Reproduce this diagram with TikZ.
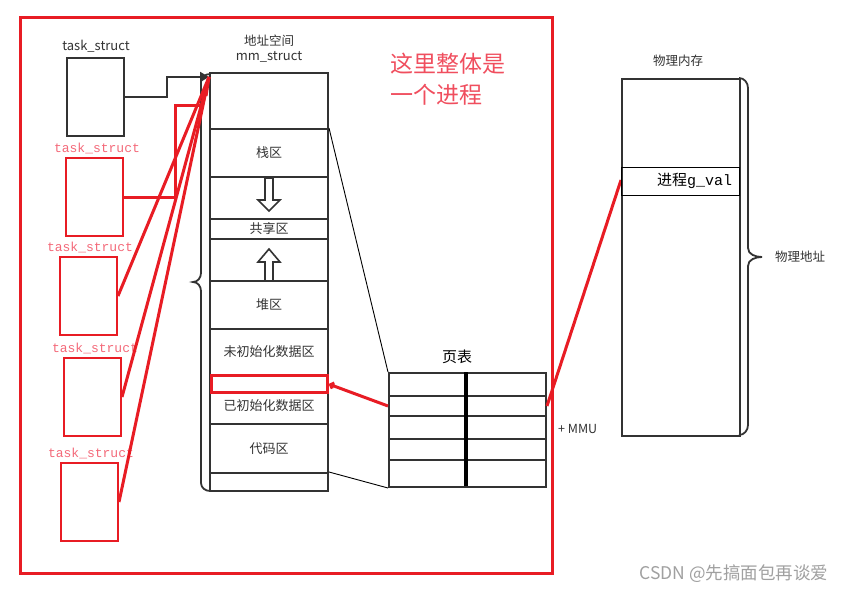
\documentclass[tikz,border=0pt]{standalone}
\usepackage{fontspec}
\setmainfont{Noto Sans CJK SC}
\newfontfamily\monof{Liberation Mono}
\usetikzlibrary{arrows.meta}
\definecolor{dk}{HTML}{333333}
\definecolor{rd}{HTML}{E81C24}
\definecolor{pk}{HTML}{F46A7A}
\definecolor{rt}{HTML}{F04E5E}
\definecolor{wm}{HTML}{A0A0A0}
\tikzset{
  blk/.style={draw=dk, line width=2pt, inner sep=0pt},
  rbox/.style={draw=rd, line width=2pt, inner sep=0pt},
  cell/.style={draw=dk, line width=2pt, inner sep=0pt, minimum width=118pt, font=\fontsize{13}{15}\selectfont, text=dk},
  ptcell/.style={draw=dk, line width=2pt, inner sep=0pt},
  lbl/.style={font=\fontsize{12.5}{14}\selectfont, text=dk, inner sep=0pt},
  rlbl/.style={font=\monof\fontsize{13}{15}\selectfont, text=pk, inner sep=0pt},
  rcon/.style={draw=rd, line width=3pt},
  thin/.style={draw=black, line width=0.9pt},
  hollow/.style={draw=dk, line width=1.6pt, fill=white, line join=miter}
}
\begin{document}
\begin{tikzpicture}[x=1pt,y=-1pt]
\useasboundingbox (0,0) rectangle (855,594);
\fill[white] (0,0) rectangle (855,594);

% big red frame
\draw[rd, line width=3pt] (20,18) rectangle (552,573);
\node[font=\fontsize{23}{31}\selectfont, text=rt, anchor=north west, align=left, inner sep=0pt] (title) at (390,53) {这里整体是\\一个进程};

% task_struct boxes
\node[lbl, font=\fontsize{13}{15}\selectfont] (l0) at (96,46) {task\_struct};
\node[blk, minimum width=57pt, minimum height=78pt] (t0) at (95.5,97) {};
\node[rlbl] (l1) at (97,148) {task\_struct};
\node[rbox, minimum width=57pt, minimum height=78pt] (t1) at (94.5,197) {};
\node[rlbl] (l2) at (90,247) {task\_struct};
\node[rbox, minimum width=57pt, minimum height=78pt] (t2) at (88.5,296) {};
\node[rlbl] (l3) at (95,348) {task\_struct};
\node[rbox, minimum width=57pt, minimum height=78pt] (t3) at (92.5,397) {};
\node[rlbl] (l4) at (91,453) {task\_struct};
\node[rbox, minimum width=57pt, minimum height=78pt] (t4) at (89.5,502) {};

% mm_struct column
\node[lbl] (h1) at (269,41) {地址空间};
\node[lbl, font=\fontsize{13}{15}\selectfont] (h2) at (269,57) {mm\_struct};
\node[cell, minimum height=56pt] (c0) at (269,101) {};
\node[cell, minimum height=48pt] (c1) at (269,153) {栈区};
\node[cell, minimum height=42pt] (c2) at (269,198) {};
\node[cell, minimum height=20pt] (c3) at (269,229) {共享区};
\node[cell, minimum height=42pt] (c4) at (269,260) {};
\node[cell, minimum height=48pt] (c5) at (269,305) {堆区};
\node[cell, minimum height=46pt] (c6) at (269,352) {未初始化数据区};
\node[cell, minimum height=49pt] (c8) at (269,399.5) {};
\node[lbl, font=\fontsize{13}{15}\selectfont] (c8t) at (269,406) {已初始化数据区};
\node[cell, minimum height=49pt] (c9) at (269,448.5) {代码区};
\node[cell, minimum height=18pt] (c10) at (269,482) {};
\node[draw=rd, line width=3pt, minimum width=116pt, minimum height=17pt, inner sep=0pt] (hl) at (269,384) {};

% hollow arrows
\draw[hollow] (265,178) -- (273,178) -- (273,200) -- (280,200) -- (269,211) -- (258,200) -- (265,200) -- cycle;
\draw[hollow] (265,281) -- (273,281) -- (273,262) -- (280,262) -- (269,249) -- (258,262) -- (265,262) -- cycle;

% left brace
\draw[dk, line width=1.8pt] (210,74) to[out=180,in=90] (201,82) -- (201,273) to[out=-90,in=0] (193,282) to[out=0,in=90] (201,291) -- (201,483) to[out=-90,in=180] (210,491);

% convergence point
\coordinate (cv) at (209,77);
\draw[dk, line width=2pt, -{Triangle[length=9pt,width=10pt]}] (t0.east) -- (167,97) -- (167,77) -- (cv);
\draw[rcon] (t1.east) -- (175,197) -- (175,106) -- (203,106);
\draw[rcon] (cv) -- (t2.east);
\draw[rcon] (cv) -- (t3.east);
\draw[rcon] (cv) -- (t4.east);
\draw[rcon] (cv) -- (206,96);

% page table
\node[font=\fontsize{15}{17}\selectfont, text=black, inner sep=0pt] (ptl) at (457,357) {页表};
\foreach \i/\a/\b in {1/372/395,2/395/415,3/415/438,4/438/459,5/459/486}{
  \node[ptcell, minimum width=78pt, minimum height={\b-\a}, anchor=north west] (pl\i) at (388,\a) {};
  \node[ptcell, minimum width=79pt, minimum height={\b-\a}, anchor=north west] (pr\i) at (466,\a) {};
}
\draw[black, line width=3.5pt] (466,372) -- (466,486);

% thin mapping lines
\draw[thin] (c1.north east) -- (pl1.north west);
\draw[thin] (c10.north east) -- (pl5.south west);

% red mapping lines
\draw[rcon, -{Straight Barb[length=3pt,width=6pt]}] (pl2.west) -- (hl.east);
\draw[rcon] (pr2.east) -- (621,180);

\node[font=\fontsize{12.5}{14}\selectfont, text=dk, anchor=west, inner sep=0pt] (mmu) at (558,429) {+ MMU};

% physical memory
\node[lbl] (pmh) at (678,61) {物理内存};
\node[blk, minimum width=118pt, minimum height=357pt, anchor=north west] (pm) at (621,78) {};
\node[draw=black, line width=1pt, minimum width=118pt, minimum height=28pt, anchor=north west, inner sep=0pt] (gv) at (621,167) {};
\node[anchor=west, inner sep=0pt, font=\fontsize{15}{17}\selectfont] (gvt) at (657,181) {进程{\monof g\_val}};
\draw[dk, line width=1.8pt] (739,78) to[out=0,in=90] (748,88) -- (748,248) to[out=-90,in=180] (762,257) to[out=180,in=90] (748,266) -- (748,425) to[out=-90,in=0] (739,435);
\node[lbl] (pa) at (800,257) {物理地址};

% watermark
\node[font=\fontsize{17.5}{20}\selectfont, text=wm, inner sep=0pt] (wmk) at (734,574) {CSDN @先搞面包再谈爱};
\end{tikzpicture}
\end{document}
